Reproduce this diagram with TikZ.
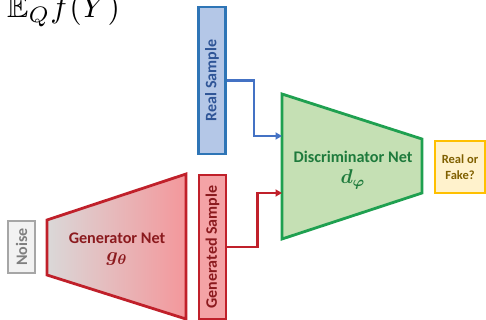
\documentclass[tikz,border=0pt]{standalone}
\usepackage{amsmath,amssymb}
\usepackage{fontspec}
\newfontfamily\calib{Carlito}
\usetikzlibrary{arrows.meta}
\definecolor{bluefill}{HTML}{B4C7E7}
\definecolor{blueedge}{HTML}{2E75B6}
\definecolor{bluetext}{HTML}{2F5597}
\definecolor{blueline}{HTML}{4472C4}
\definecolor{greenfill}{HTML}{C5E0B4}
\definecolor{greenedge}{HTML}{1FA050}
\definecolor{greentext}{HTML}{1E7A3C}
\definecolor{rededge}{HTML}{C0202A}
\definecolor{redfill}{HTML}{F4A3A6}
\definecolor{redtext}{HTML}{8B1A1E}
\definecolor{genleft}{HTML}{DAD8D8}
\definecolor{genright}{HTML}{F4979B}
\definecolor{grayedge}{HTML}{A6A6A6}
\definecolor{grayfill}{HTML}{F2F2F2}
\definecolor{graytext}{HTML}{7F7F7F}
\definecolor{goldedge}{HTML}{FFC000}
\definecolor{goldfill}{HTML}{FFF2CC}
\definecolor{goldtext}{HTML}{806000}
\tikzset{
  vbox/.style={rotate=90, line width=2.7pt, inner sep=0pt, font=\calib\bfseries\fontsize{16}{18}\selectfont},
  lbl/.style={inner sep=0pt, font=\calib\bfseries\fontsize{16.2}{18}\selectfont},
  conn/.style={line width=2.4pt, -{Triangle[length=6.5pt,width=7pt]}},
}
\begin{document}
\begin{tikzpicture}[x=1pt,y=-1pt]
\useasboundingbox (0,0) rectangle (486,320);
\clip (0,0) rectangle (486,320);
% formula
\node[anchor=base west, inner sep=0pt] (eq) at (7,17.5) {\scalebox{3.2}{$\mathbb{E}_Q f(Y)$}};
% discriminator
\coordinate (d1) at (282,94);
\coordinate (d2) at (422,139);
\coordinate (d3) at (422,193);
\coordinate (d4) at (282,239);
\coordinate (din1) at (282,136);
\coordinate (din2) at (282,193);
\filldraw[fill=greenfill, draw=greenedge, line width=2.8pt, line join=miter] (d1) -- (d2) -- (d3) -- (d4) -- cycle;
\node[lbl, text=greentext] (dlab) at (353,157) {Discriminator Net};
\node[inner sep=0pt, text=greentext] (dsym) at (353,179) {\scalebox{2}{$\boldsymbol{d_{\varphi}}$}};
% generator
\coordinate (g1) at (47,220);
\coordinate (g2) at (186,174);
\coordinate (g3) at (186,319);
\coordinate (g4) at (47,275);
\draw[left color=genleft, right color=genright, draw=rededge, line width=2.8pt, line join=miter] (g1) -- (g2) -- (g3) -- (g4) -- cycle;
\node[lbl, text=redtext] (glab) at (117,238) {Generator Net};
\node[inner sep=0pt, text=redtext] (gsym) at (117,259) {\scalebox{2}{$\boldsymbol{g_{\theta}}$}};
% boxes
\node[vbox, draw=blueedge, fill=bluefill, text=bluetext, minimum width=147pt, minimum height=27pt] (rs) at (212,80.5) {Real Sample};
\node[vbox, draw=rededge, fill=redfill, text=redtext, minimum width=144pt, minimum height=27pt] (gs) at (212.5,247) {Generated Sample};
\node[vbox, draw=grayedge, fill=grayfill, text=graytext, minimum width=52pt, minimum height=27pt] (noise) at (21.5,247) {Noise};
\node[draw=goldedge, fill=goldfill, text=goldtext, line width=2.7pt, minimum width=50pt, minimum height=52pt, inner sep=0pt, align=center, font=\calib\bfseries\fontsize{12.5}{16}\selectfont] (rf) at (460,167) {Real or\\Fake?};
% connectors
\draw[conn, blueline] (rs.south) -- ++(27,0) |- (din1);
\draw[conn, rededge] (gs.south) -- ++(30,0) |- (din2);
\end{tikzpicture}
\end{document}
